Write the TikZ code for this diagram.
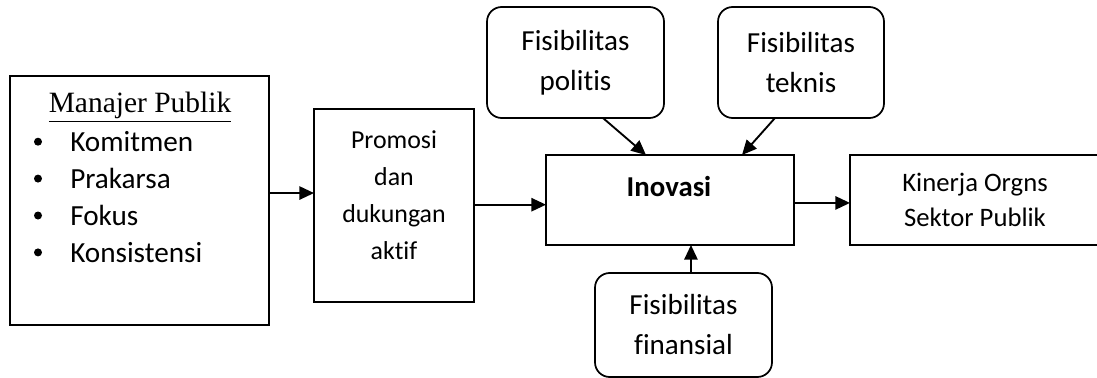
\documentclass[tikz,border=0pt]{standalone}
\usepackage{fontspec}
\setmainfont{Carlito}[Ligatures=NoCommon]
\newfontfamily\serifjudul{Liberation Serif}
\usetikzlibrary{arrows.meta}

\begin{document}
\begin{tikzpicture}[x=0.75pt, y=-0.75pt]

	\tikzstyle{kotak}=[rectangle, draw, line width=1.3pt, inner sep=0pt, outer sep=0pt]
	\tikzstyle{bulat}=[kotak, rounded corners=11pt, align=center, font=\fontsize{21.8}{30}\selectfont]
	\tikzstyle{panah}=[-{Triangle[length=11pt, width=10pt]}, line width=1.4pt]
	\tikzstyle{butir}=[anchor=base west, inner sep=0pt, font=\fontsize{21.9}{25}\selectfont]

	\useasboundingbox (0, 0) rectangle (1097, 378);

	\coordinate (c_manajer) at (139.5, 200.5);
	\coordinate (c_promosi) at (394, 205.5);
	\coordinate (c_inovasi) at (670, 200);
	\coordinate (c_politis) at (575.5, 62.5); % ATAS KIRI
	\coordinate (c_teknis) at (801, 62.5); % ATAS KANAN
	\coordinate (c_finansial) at (683.5, 325); % BAWAH
	\coordinate (c_kinerja) at (975, 200);

	\node[kotak, minimum width=194.25pt, minimum height=186.75pt] (manajer) at (c_manajer) {};
	\node[kotak, minimum width=120pt, minimum height=144.75pt] (promosi) at (c_promosi) {};
	\node[kotak, minimum width=186pt, minimum height=67.5pt] (inovasi) at (c_inovasi) {};
	\node[bulat, minimum width=132.75pt, minimum height=83.25pt] (politis) at (c_politis) {Fisibilitas\\politis};
	\node[bulat, minimum width=124.5pt, minimum height=83.25pt] (teknis) at (c_teknis) {Fisibilitas\\teknis};
	\node[bulat, minimum width=132.75pt, minimum height=78pt] (finansial) at (c_finansial) {Fisibilitas\\finansial};
	\node[kotak, minimum width=187.5pt, minimum height=67.5pt, align=center,
		font=\fontsize{20}{26.25}\selectfont] (kinerja) at (c_kinerja) {Kinerja Orgns\\Sektor Publik};

	% ISI KOTAK
	\node[anchor=base, font=\serifjudul\fontsize{22.1}{25}\selectfont] (judul) at (140, 113) {\underline{Manajer Publik}};
	\foreach \teks [count=\i from 0] in {Komitmen, Prakarsa, Fokus, Konsistensi} {
		\node[circle, fill, inner sep=0pt, minimum size=6pt] (titik_\i) at (38, 141.7 + 36.9*\i) {};
		\node[butir] (butir_\i) at (70, 151.7 + 36.9*\i) {\teks};
	}
	\node[align=center, font=\fontsize{19.4}{27.75}\selectfont] (promosi_teks) at (394, 195) {Promosi\\dan\\dukungan\\aktif};
	\node[font=\bfseries\fontsize{21.6}{25}\selectfont] (inovasi_teks) at (669, 187) {Inovasi};

	\draw[panah] ([yshift=5.6pt]manajer.east) -- ([yshift=5.6pt]manajer.east -| promosi.west);
	\draw[panah] ([yshift=0.6pt]promosi.east) -- ([yshift=0.6pt]promosi.east -| inovasi.west);
	\draw[panah] ([yshift=-2.2pt]inovasi.east) -- ([yshift=-2.2pt]inovasi.east -| kinerja.west);
	\draw[panah] ([xshift=20.6pt]politis.south) -- ([xshift=-18pt]inovasi.north);
	\draw[panah] ([xshift=-19.5pt]teknis.south) -- ([xshift=54pt]inovasi.north);
	\draw[panah] ([xshift=5.6pt]finansial.north) -- ([xshift=5.6pt]finansial.north |- inovasi.south);
\end{tikzpicture}
\end{document}
